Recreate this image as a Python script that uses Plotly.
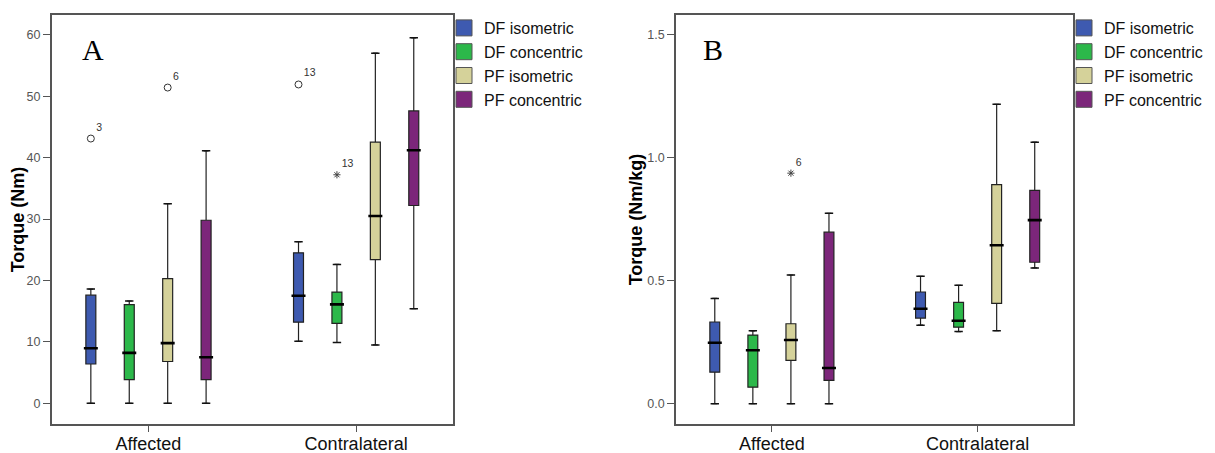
import plotly.graph_objects as go

groups = ["Affected", "Contralateral"]
series = ["DF isometric", "DF concentric", "PF isometric", "PF concentric"]
colors = ["#3E5AB0", "#2CB84A", "#D5D29A", "#7C267A"]

# Panel A: Torque (Nm); each row is one series, values for [Affected, Contralateral]
A_low = [[0, 10.1], [0, 9.9], [0, 9.5], [0, 15.4]]
A_q1 = [[6.4, 13.2], [3.85, 13.0], [6.8, 23.4], [3.85, 32.2]]
A_med = [[8.95, 17.5], [8.2, 16.1], [9.8, 30.5], [7.5, 41.2]]
A_q3 = [[17.6, 24.5], [16.05, 18.1], [20.3, 42.5], [29.8, 47.6]]
A_high = [[18.6, 26.3], [16.65, 22.6], [32.5, 57.0], [41.1, 59.5]]
# outliers: group index, series index, value, case label
A_out_group = [0, 0, 1]
A_out_series = [0, 2, 0]
A_out_value = [43.1, 51.4, 51.9]
A_out_label = ["3", "6", "13"]
A_ext_group = [1]
A_ext_series = [1]
A_ext_value = [37.2]
A_ext_label = ["13"]

# Panel B: Torque (Nm/kg)
B_low = [[0, 0.319], [0, 0.293], [0, 0.297], [0, 0.552]]
B_q1 = [[0.128, 0.348], [0.067, 0.311], [0.176, 0.408], [0.095, 0.575]]
B_med = [[0.248, 0.386], [0.217, 0.337], [0.259, 0.644], [0.145, 0.746]]
B_q3 = [[0.332, 0.454], [0.279, 0.412], [0.325, 0.890], [0.697, 0.867]]
B_high = [[0.428, 0.518], [0.296, 0.481], [0.523, 1.217], [0.774, 1.063]]
B_out_group = []
B_out_series = []
B_out_value = []
B_out_label = []
B_ext_group = [0]
B_ext_series = [2]
B_ext_value = [0.937]
B_ext_label = ["6"]

A_ticks = [0, 10, 20, 30, 40, 50, 60]
B_ticks = [0.0, 0.5, 1.0, 1.5]

# layout parameters
W, H = 1207, 445
offsets = [-0.2775, -0.0925, 0.0925, 0.2775]
box_w = 0.048
FRAME = "#555555"
SANS = "Liberation Sans, Arial, sans-serif"
TICKFONT = dict(family=SANS, size=12.5, color="#555555")

fig = go.Figure()


def add_panel(xa, ya, low, q1, med, q3, high, og, os_, ov, ol, eg, es, ev, el, legend):
    for s in range(len(series)):
        xs = [g + offsets[s] for g in range(len(groups))]
        fig.add_trace(go.Box(
            x=xs, q1=q1[s], median=med[s], q3=q3[s],
            lowerfence=low[s], upperfence=high[s],
            width=box_w, fillcolor=colors[s],
            line=dict(color="#222222", width=1.2),
            boxpoints=False, showlegend=False, hoverinfo="skip",
            xaxis=xa, yaxis=ya,
        ))
        # whisker caps
        fig.add_trace(go.Scatter(
            x=xs + xs, y=low[s] + high[s], mode="markers",
            marker=dict(symbol="line-ew", size=6, line=dict(color="#111111", width=1.5)),
            showlegend=False, hoverinfo="skip", xaxis=xa, yaxis=ya,
        ))
        # median bars
        fig.add_trace(go.Scatter(
            x=xs, y=med[s], mode="markers",
            marker=dict(symbol="line-ew", size=10, line=dict(color="#000000", width=2.6)),
            showlegend=False, hoverinfo="skip", xaxis=xa, yaxis=ya,
        ))
        # legend entry
        fig.add_trace(go.Scatter(
            x=[None], y=[None], mode="markers", name=series[s],
            marker=dict(symbol="square", size=16, color=colors[s],
                        line=dict(color="#555555", width=1)),
            legend=legend, xaxis=xa, yaxis=ya,
        ))
    if ov:
        fig.add_trace(go.Scatter(
            x=[g + offsets[s] for g, s in zip(og, os_)], y=ov, text=ol,
            mode="markers+text", textposition="top right",
            textfont=dict(family=SANS, size=10.5, color="#333333"),
            marker=dict(symbol="circle-open", size=7, color="#333333", line=dict(width=1)),
            showlegend=False, hoverinfo="skip", xaxis=xa, yaxis=ya,
        ))
    if ev:
        fig.add_trace(go.Scatter(
            x=[g + offsets[s] for g, s in zip(eg, es)], y=ev, text=el,
            mode="markers+text", textposition="top right",
            textfont=dict(family=SANS, size=10.5, color="#333333"),
            marker=dict(symbol="asterisk-open", size=6, color="#444444", line=dict(width=1, color="#444444")),
            showlegend=False, hoverinfo="skip", xaxis=xa, yaxis=ya,
        ))


add_panel("x", "y", A_low, A_q1, A_med, A_q3, A_high,
          A_out_group, A_out_series, A_out_value, A_out_label,
          A_ext_group, A_ext_series, A_ext_value, A_ext_label, "legend")
add_panel("x2", "y2", B_low, B_q1, B_med, B_q3, B_high,
          B_out_group, B_out_series, B_out_value, B_out_label,
          B_ext_group, B_ext_series, B_ext_value, B_ext_label, "legend2")

xcommon = dict(
    range=[-0.466, 1.465], tickmode="array", tickvals=list(range(len(groups))), ticktext=groups,
    ticks="outside", ticklen=6, tickcolor=FRAME, tickwidth=1.3,
    showline=True, linecolor=FRAME, linewidth=1.5, mirror=True,
    showgrid=False, zeroline=False, ticklabelstandoff=-4,
    tickfont=dict(family=SANS, size=18, color="#111111"),
)
ycommon = dict(
    ticks="outside", ticklen=7, tickcolor=FRAME, tickwidth=1.3,
    showline=True, linecolor=FRAME, linewidth=1.5, mirror=True,
    showgrid=False, zeroline=False, tickfont=TICKFONT,
)

ydom = [1 - 416.3 / H, 1 - 6.7 / H]
legfont = dict(family=SANS, size=16, color="#111111")
titlefont = dict(family=SANS, size=18, color="#000000")

fig.update_layout(
    width=W, height=H,
    margin=dict(l=0, r=0, t=0, b=0, autoexpand=False),
    paper_bgcolor="white", plot_bgcolor="white",
    boxmode="overlay",
    xaxis=dict(domain=[43.7 / W, 444.7 / W], anchor="y", **xcommon),
    yaxis=dict(domain=ydom, anchor="x", range=[-3.42, 63.26],
               tickvals=A_ticks,
               title=dict(text="<b>Torque (Nm)</b>", standoff=3, font=titlefont),
               **ycommon),
    xaxis2=dict(domain=[668 / W, 1065.3 / W], anchor="y2", **xcommon),
    yaxis2=dict(domain=ydom, anchor="x2", range=[-0.0837, 1.581],
                tickvals=B_ticks, tickformat=".1f",
                title=dict(text="<b>Torque (Nm/kg)</b>", standoff=0, font=titlefont),
                **ycommon),
    legend=dict(x=436 / W, y=1 - 3 / H, xanchor="left", yanchor="top",
                bgcolor="rgba(0,0,0,0)", tracegroupgap=0, font=legfont),
    legend2=dict(x=1056 / W, y=1 - 3 / H, xanchor="left", yanchor="top",
                 bgcolor="rgba(0,0,0,0)", tracegroupgap=0, font=legfont),
    annotations=[
        dict(text="A", xref="x domain", yref="y domain", x=0.104, y=0.915,
             xanchor="center", yanchor="middle",
             showarrow=False, font=dict(family="Liberation Serif, Times New Roman, serif", size=30, color="#000000")),
        dict(text="B", xref="x2 domain", yref="y2 domain", x=0.093, y=0.915,
             xanchor="center", yanchor="middle",
             showarrow=False, font=dict(family="Liberation Serif, Times New Roman, serif", size=30, color="#000000")),
    ],
)

fig.write_html("out.html")
